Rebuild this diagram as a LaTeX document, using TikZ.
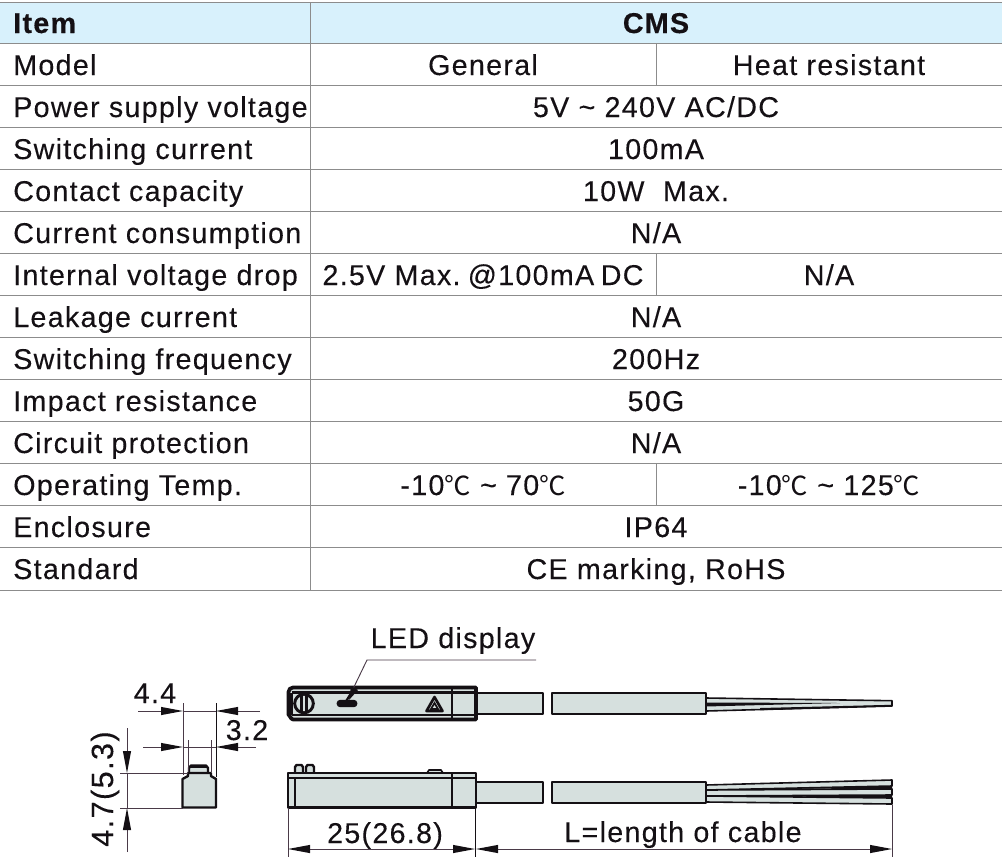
\documentclass[tikz,border=0pt]{standalone}
\usepackage{fontspec}
\setmainfont[LetterSpace=4.5,FakeBold=0.2,BoldFont={Liberation Sans Bold},BoldFeatures={FakeBold=0.4}]{Liberation Sans}
\newfontfamily\cjkfont[Scale=0.92]{Noto Sans CJK SC}
\newcommand{\degc}{{\cjkfont ℃}}
\newcommand{\tld}{\char`\~}
\usetikzlibrary{arrows.meta}
\definecolor{hdr}{HTML}{D8F1FC}
\definecolor{grid}{HTML}{8C8C8C}
\definecolor{body}{HTML}{D6E0DE}
\definecolor{ink}{HTML}{141014}
\definecolor{dimc}{HTML}{4A3A48}
\tikzset{
  dimtip/.tip={Triangle[length=16.5pt,width=6.2pt,color=ink,fill=ink,line width=0pt]},
  cell/.style={anchor=center,inner sep=0pt,text=ink,text height=15.5pt,text depth=0.5pt,font=\fontsize{21.5}{21.5}\selectfont},
  lcell/.style={cell,anchor=west},
  hcell/.style={font=\fontsize{21.5}{21.5}\selectfont\bfseries},
  gridline/.style={grid,line width=0.75pt},
  part/.style={draw=ink,fill=body,line width=1.8pt,line join=round},
  thinpart/.style={draw=ink,line width=1.8pt},
  wire/.style={draw=ink,fill=body,line width=1.2pt,line join=round},
  dimline/.style={dimc,line width=0.5pt},
  dimarrow/.style={dimc,line width=0.5pt,-{dimtip}},
  dimboth/.style={dimc,line width=0.5pt,{dimtip}-{dimtip}},
}
\begin{document}
\begin{tikzpicture}[x=0.75pt,y=-0.75pt]
\useasboundingbox (0,0) rectangle (1002,857);
% table
\fill[hdr] (0,2) rectangle (1002,43);
\foreach \yy in {2,43,85,127,169,211,253,295,337,379,421,463,505,547,590}
  \draw[gridline] (0,\yy) -- (1002,\yy);
\draw[gridline] (310,2) -- (310,590);
\draw[gridline] (656,43) -- (656,85);
\draw[gridline] (656,253) -- (656,295);
\draw[gridline] (656,463) -- (656,505);
\node[lcell,hcell] (t0) at (13,23) {Item};
\node[cell,hcell] (h0) at (656,23) {CMS};
\node[lcell] (t1) at (13,65) {Model};
\node[cell] (v1a) at (483,65) {General};
\node[cell] (v1b) at (829,65) {Heat resistant};
\node[lcell] (t2) at (13,107) {Power supply voltage};
\node[cell] (v2) at (656,107) {5V \tld\ 240V AC/DC};
\node[lcell] (t3) at (13,149) {Switching current};
\node[cell] (v3) at (656,149) {100mA};
\node[lcell] (t4) at (13,191) {Contact capacity};
\node[cell] (v4) at (656,191) {10W\ \ Max.};
\node[lcell] (t5) at (13,233) {Current consumption};
\node[cell] (v5) at (656,233) {N/A};
\node[lcell] (t6) at (13,275) {Internal voltage drop};
\node[cell] (v6a) at (483,275) {2.5V Max.\kern-1.5pt\ @100mA\kern-2pt\ DC};
\node[cell] (v6b) at (829,275) {N/A};
\node[lcell] (t7) at (13,317) {Leakage current};
\node[cell] (v7) at (656,317) {N/A};
\node[lcell] (t8) at (13,359) {Switching frequency};
\node[cell] (v8) at (656,359) {200Hz};
\node[lcell] (t9) at (13,401) {Impact resistance};
\node[cell] (v9) at (656,401) {50G};
\node[lcell] (t10) at (13,443) {Circuit protection};
\node[cell] (v10) at (656,443) {N/A};
\node[lcell] (t11) at (13,485) {Operating Temp.};
\node[cell] (v11a) at (483,485) {-10\degc{} \tld\ 70\degc};
\node[cell] (v11b) at (829,485) {-10\degc{} \tld\ 125\degc};
\node[lcell] (t12) at (13,527) {Enclosure};
\node[cell] (v12) at (656,527) {IP64};
\node[lcell] (t13) at (13,569) {Standard};
\node[cell] (v13) at (656,569) {CE marking, RoHS};
% top view: cable
\draw[part] (476,693) rectangle (543,714);
\draw[part] (552,693) rectangle (706,714);
\draw[wire] (706,698) -- (892,700.7) -- (892,706) -- (706,711) -- cycle;
\fill[ink] (706,702.5) -- (840,703) -- (706,706.5) -- cycle;
\fill[ink] (760,708) -- (892,704.8) -- (892,706.5) -- (760,710.2) -- cycle;
% top view: body
\draw[part,line width=2.8pt] (293,687.5) -- (476,687.5) -- (476,719.5) -- (293,719.5) to[out=180,in=90,looseness=1] (288.5,715) -- (288.5,692) to[out=90,in=180] (293,687.5) -- cycle;
\draw[thinpart] (291.5,692.5) -- (476,692.5) (291.5,715) -- (476,715);
\draw[thinpart] (452,688) -- (452,719);
\draw[thinpart] (291.5,692.5) -- (291.5,715);
\node[circle,draw=ink,line width=2.2pt,fill=body,minimum size=14pt,inner sep=0pt] (screw) at (304,703.5) {};
\draw[ink,line width=2.2pt] (301.5,695) -- (301.5,712) (306.5,695) -- (306.5,712);
\node[rounded corners=2.5pt,fill=ink,minimum width=15.5pt,minimum height=5.5pt,inner sep=0pt] (led) at (347,703.5) {};
\draw[ink,line width=2pt,line join=round,fill=body] (434.5,697) -- (442.5,711) -- (426.5,711) -- cycle;
\draw[ink,line width=1.3pt] (434.5,703) -- (438,709) -- (431,709) -- cycle;
% LED leader
\coordinate (ldr0) at (536,660);
\coordinate (ldr1) at (367,660);
\draw[dimline,line width=0.7pt] (ldr0) -- (ldr1) -- (352,691);
\draw[ink,line width=1.7pt] (353,690) -- (345,703);
\fill[ink] (351,686) -- (358,690) -- (349,700) -- cycle;
\node[cell] (ledtxt) at (453,638) {LED display};
% side view: cable
\draw[part] (476,782) rectangle (543,803);
\draw[part] (552,782) rectangle (706,803);
\draw[wire] (706,785) -- (892,780) -- (892,786) -- (706,790) -- cycle;
\draw[wire] (706,790) -- (892,789) -- (892,795) -- (706,796) -- cycle;
\draw[wire] (706,796) -- (892,798) -- (892,804) -- (706,802) -- cycle;
\fill[ink] (777,788.5) -- (892,786) -- (892,789) -- cycle;
\fill[ink] (777,796.3) -- (892,795) -- (892,798) -- cycle;
% side view: body
\draw[part] (295,773) -- ++(0,-6) -- ++(1.5,-2) -- ++(5,0) -- ++(1.5,2) -- ++(0,6);
\draw[part] (306,773) -- ++(0,-6) -- ++(1.5,-2) -- ++(5,0) -- ++(1.5,2) -- ++(0,6);
\draw[part,line width=1.2pt] (427,773) -- (429,770) -- (441,770) -- (443,773);
\draw[part,line width=2.2pt] (288,773) rectangle (476,807.5);
\draw[thinpart] (288,778) -- (476,778);
\draw[thinpart] (295,778) -- (295,807);
\draw[thinpart,line width=2.2pt] (452,773) -- (452,807);
% end view
\draw[part] (189,773) -- (189,768) -- (191,765.5) -- (206,765.5) -- (208,768) -- (208,773);
\draw[ink,line width=2pt] (190,766.5) -- (207,766.5);
\draw[part] (182.5,779) -- (188,776) -- (188,773) -- (211,773) -- (211,776) -- (216,779) -- (216,807.5) -- (182.5,807.5) -- cycle;
% dimensions
\coordinate (a0) at (183,703); \coordinate (a1) at (183,775);
\coordinate (b0) at (216,703); \coordinate (b1) at (216,777);
\coordinate (c0) at (188,740); \coordinate (c1) at (188,772);
\coordinate (d0) at (211,740); \coordinate (d1) at (211,772);
\draw[dimline] (a0) -- (a1);
\draw[ink,line width=0.6pt] (b0) -- (b1);
\draw[dimline] (c0) -- (c1);
\draw[dimline] (d0) -- (d1);
\coordinate (e0) at (138,711); \coordinate (e1) at (183,711);
\coordinate (e2) at (260,711); \coordinate (e3) at (216,711);
\draw[dimarrow] (e0) -- (e1);
\draw[dimarrow] (e2) -- (e3);
\draw[dimline] (e1) -- (e3);
\coordinate (f0) at (143,747); \coordinate (f1) at (183,747);
\coordinate (f2) at (256,747); \coordinate (f3) at (216,747);
\draw[dimarrow] (f0) -- (f1);
\draw[dimarrow] (f2) -- (f3);
\draw[dimline] (f1) -- (f3);
\node[cell] (d44) at (155,693) {4.4};
\node[cell] (d32) at (247,730) {3.2};
\coordinate (g0) at (127,728); \coordinate (g1) at (127,773);
\coordinate (g2) at (127,852); \coordinate (g3) at (127,808);
\draw[dimarrow] (g0) -- (g1);
\draw[dimarrow] (g2) -- (g3);
\draw[dimline] (g1) -- (g3);
\coordinate (h0c) at (120,773); \coordinate (h1c) at (188,773);
\coordinate (i0) at (120,808); \coordinate (i1) at (183,808);
\draw[dimline] (h0c) -- (h1c);
\draw[dimline] (i0) -- (i1);
\node[cell,rotate=90,font=\fontsize{23}{23}\selectfont] (d47) at (103,789) {4.7(5.3)};
\coordinate (j0) at (288,808); \coordinate (j1) at (288,857);
\coordinate (k0) at (475,808); \coordinate (k1) at (475,857);
\coordinate (l0) at (892,805); \coordinate (l1) at (892,857);
\draw[dimline] (j0) -- (j1);
\draw[ink,line width=0.6pt] (k0) -- (k1);
\draw[dimline] (l0) -- (l1);
\coordinate (m0) at (288,849); \coordinate (m1) at (475,849);
\coordinate (n0) at (476,849); \coordinate (n1) at (892,849);
\draw[dimboth] (m0) -- (m1);
\draw[dimboth] (n0) -- (n1);
\node[cell] (d25) at (385,833) {25(26.8)};
\node[cell] (dL) at (683,832) {L=length of cable};
\end{tikzpicture}
\end{document}
